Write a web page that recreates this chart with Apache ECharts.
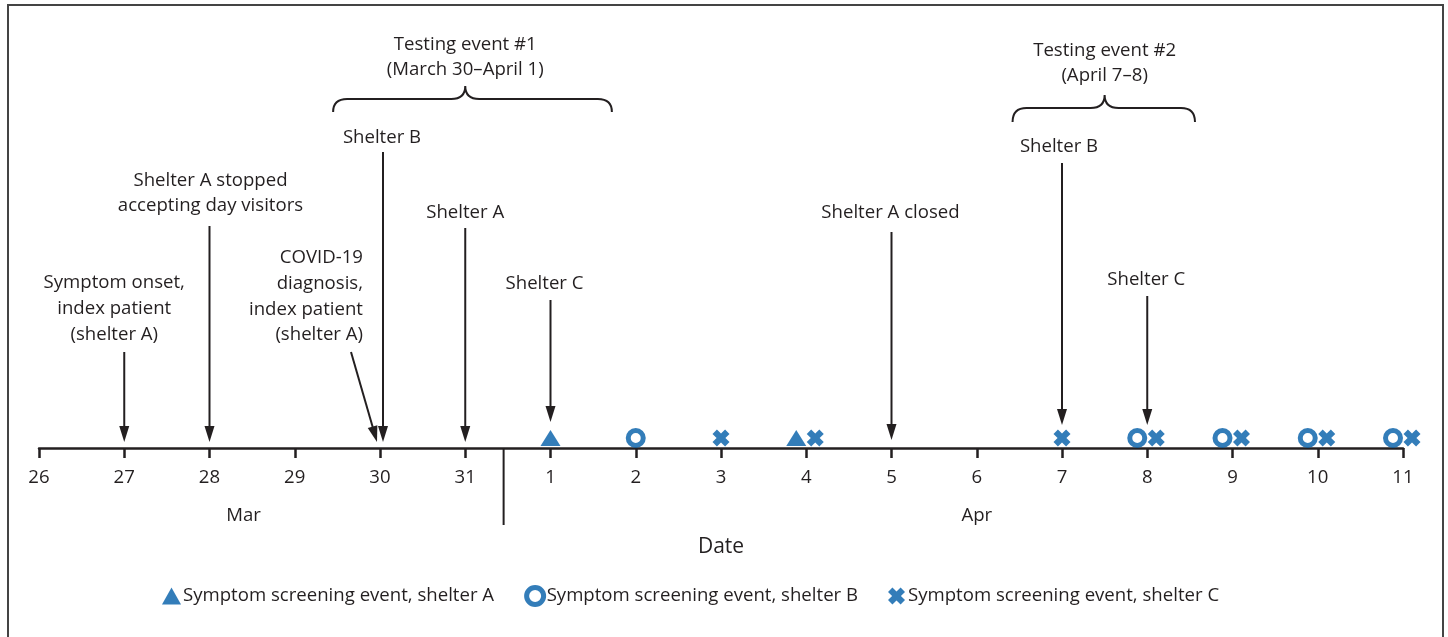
<!DOCTYPE html>
<html><head><meta charset="utf-8">
<script src="https://cdn.jsdelivr.net/npm/echarts@6/dist/echarts.min.js"></script>
<style>html,body{margin:0;padding:0;background:#fff}#c{width:1448px;height:637px}</style>
</head><body><div id="c"></div>
<script>
// ---------- DATA ----------
const dayLabels = ['26','27','28','29','30','31','1','2','3','4','5','6','7','8','9','10','11'];
const monthLabels = ['Mar','Apr'];
const monthLabelDays = [2.4, 11];
const monthBoundaryDay = 5.45;
const axisTitle = 'Date';

const eventLabels = [
  'Symptom onset,\nindex patient\n(shelter A)',
  'Shelter A stopped\naccepting day visitors',
  'COVID-19\ndiagnosis,\nindex patient\n(shelter A)',
  'Shelter B',
  'Shelter A',
  'Shelter C',
  'Shelter A closed',
  'Shelter B',
  'Shelter C'
];
const eventDays = [1, 2, 4, 4, 5, 6, 10, 12, 13];

const testingLabels = ['Testing event #1\n(March 30–April 1)', 'Testing event #2\n(April 7–8)'];
const testingStartDays = [4, 12];
const testingEndDays = [6, 13];

const seriesNames = [
  'Symptom screening event, shelter A',
  'Symptom screening event, shelter B',
  'Symptom screening event, shelter C'
];
const shelterADays = [6, 9];
const shelterBDays = [7, 13, 14, 15, 16];
const shelterCDays = [8, 9, 12, 13, 14, 15, 16];

// ---------- LAYOUT / STYLE ----------
const INK = '#231f20';
const BLUE = '#005ca8';
const FONT = '"Open Sans", "Noto Sans", sans-serif';
const FS = 18.6;
const XPATH = 'path://M2.6,0 L5,2.4 L7.4,0 L10,2.6 L7.6,5 L10,7.4 L7.4,10 L5,7.6 L2.6,10 L0,7.4 L2.4,5 L0,2.6 Z';
// per-event layout: text x offset(px), text top height above axis(px), align, lineHeight, arrow from [dx,h], to [dx,h]
const eventLayout = [
  {tx:-10, top:178, align:'center', lh:26, from:[0,96],   to:[0,6]},
  {tx:1,   top:280, align:'center', lh:25, from:[0,222],  to:[0,6]},
  {tx:-17, top:203, align:'right',  lh:25.7, from:[-29,96], to:[-3,6]},
  {tx:2,   top:323, align:'center', lh:25, from:[3,296],  to:[3,6]},
  {tx:0,   top:248, align:'center', lh:25, from:[0,220],  to:[0,6]},
  {tx:-6,  top:177, align:'center', lh:25, from:[0,148],  to:[0,26]},
  {tx:-1,  top:248, align:'center', lh:25, from:[0,216],  to:[0,8]},
  {tx:-3,  top:314, align:'center', lh:25, from:[0,285],  to:[0,23]},
  {tx:-1,  top:181, align:'center', lh:25, from:[0,152],  to:[0,23]}
];
const testingLayout = [
  {top:416, tipH:362, flatH:349, endH:336, padL:0.55, padR:0.72},
  {top:410, tipH:353, flatH:340, endH:326, padL:0.58, padR:0.56}
];

function mkPoints(days, others, side) {
  return days.map(d => {
    const shared = others.some(o => o.includes(d));
    return { value: [d, 0], symbolOffset: [shared ? side : 0, -10] };
  });
}

const chart = echarts.init(document.getElementById('c'), null, {renderer:'canvas'});

function arrowEls(x1, y1, x2, y2) {
  const L = 16, W = 10;
  const dx = x2 - x1, dy = y2 - y1, len = Math.hypot(dx, dy);
  const ux = dx / len, uy = dy / len;
  const bx = x2 - ux * L, by = y2 - uy * L;
  const nx = -uy, ny = ux;
  return [
    {type:'line', shape:{x1, y1, x2:bx + ux*2, y2:by + uy*2}, style:{stroke:INK, lineWidth:2}},
    {type:'polygon', shape:{points:[[x2,y2],[bx + nx*W/2, by + ny*W/2],[bx - nx*W/2, by - ny*W/2]]}, style:{fill:INK}}
  ];
}

const option = {
  animation: false,
  backgroundColor: '#fff',
  textStyle: {fontFamily: FONT, color: INK},
  grid: {left: 39, right: 45, top: 48, bottom: 189},
  xAxis: {
    type: 'value', min: 0, max: dayLabels.length - 1, interval: 1,
    axisLine: {show: true, lineStyle: {color: INK, width: 2.5}},
    axisTick: {show: true, length: 10, lineStyle: {color: INK, width: 2.5}},
    axisLabel: {formatter: v => dayLabels[v] || '', fontSize: 18.6, color: INK, margin: 20, fontFamily: FONT},
    splitLine: {show: false},
    name: axisTitle, nameLocation: 'middle', nameGap: 89,
    nameTextStyle: {fontSize: 21, color: INK, fontFamily: FONT}
  },
  yAxis: {type: 'value', min: 0, max: 400, show: false},
  legend: {
    bottom: 25, left: 157, itemGap: 30, itemWidth: 19, itemHeight: 17,
    textStyle: {fontSize: 18.6, color: INK, fontFamily: FONT, padding: [0,0,0,-3]},
    data: [
      {name: seriesNames[0], icon: 'triangle', itemStyle: {color: BLUE}},
      {name: seriesNames[1], icon: 'circle', itemStyle: {color: '#fff', borderColor: BLUE, borderWidth: 5}},
      {name: seriesNames[2], icon: XPATH, itemStyle: {color: BLUE}}
    ]
  },
  graphic: [{
    type: 'rect', shape: {x: 8, y: 5, width: 1435, height: 640},
    style: {fill: 'none', stroke: '#444', lineWidth: 2}, silent: true
  }],
  series: [
    {
      type: 'custom', name: 'annotations', clip: false, silent: true,
      data: eventDays.map((d, i) => [d, i]),
      renderItem: (params, api) => {
        const i = api.value(1), d = api.value(0);
        const lay = eventLayout[i];
        const base = api.coord([d, 0]);
        const p1 = api.coord([d, lay.from[1]]), p2 = api.coord([d, lay.to[1]]);
        const tp = api.coord([d, lay.top]);
        return {type:'group', children: [
          {type:'text', style:{text: eventLabels[i], x: base[0] + lay.tx, y: tp[1], align: lay.align, verticalAlign:'top',
            fontSize: FS, fontFamily: FONT, lineHeight: lay.lh, fill: INK}},
          ...arrowEls(p1[0] + lay.from[0], p1[1], p2[0] + lay.to[0], p2[1])
        ]};
      }
    },
    {
      type: 'custom', name: 'testing', clip: false, silent: true,
      data: testingStartDays.map((s, i) => [s, testingEndDays[i], i]),
      renderItem: (params, api) => {
        const s = api.value(0), e = api.value(1), i = api.value(2);
        const lay = testingLayout[i];
        const mid = (s + e) / 2;
        const xL = api.coord([s - lay.padL, 0])[0], xR = api.coord([e + lay.padR, 0])[0];
        const xT = api.coord([mid, 0])[0];
        const yT = api.coord([mid, lay.tipH])[1], yF = api.coord([mid, lay.flatH])[1], yE = api.coord([mid, lay.endH])[1];
        const yTop = api.coord([mid, lay.top])[1];
        const r = 14;
        const path = `M${xL},${yE} Q${xL},${yF} ${xL + r},${yF} L${xT - r},${yF} Q${xT},${yF} ${xT},${yT} Q${xT},${yF} ${xT + r},${yF} L${xR - r},${yF} Q${xR},${yF} ${xR},${yE}`;
        return {type:'group', children:[
          {type:'text', style:{text: testingLabels[i], x: xT, y: yTop, align:'center', verticalAlign:'top',
            fontSize: FS, fontFamily: FONT, lineHeight: 25, fill: INK}},
          {type:'path', shape:{pathData: path}, style:{fill:'none', stroke: INK, lineWidth: 2}}
        ]};
      }
    },
    {
      type: 'custom', name: 'months', clip: false, silent: true,
      data: monthLabels.map((m, i) => [monthLabelDays[i], i]),
      renderItem: (params, api) => {
        const d = api.value(0), i = api.value(1);
        const p = api.coord([d, 0]);
        const children = [
          {type:'text', style:{text: monthLabels[i], x: p[0], y: p[1] + 68, align:'center', verticalAlign:'middle',
            fontSize: 18.6, fontFamily: FONT, fill: INK}}
        ];
        if (i === 0) {
          const b = api.coord([monthBoundaryDay, 0]);
          children.push({type:'line', shape:{x1: b[0], y1: b[1], x2: b[0], y2: b[1] + 77}, style:{stroke: INK, lineWidth: 2}});
        }
        return {type:'group', children};
      }
    },
    {
      type: 'scatter', name: seriesNames[0], symbol: 'triangle', symbolSize: [20, 16],
      itemStyle: {color: BLUE}, z: 5,
      data: mkPoints(shelterADays, [shelterBDays, shelterCDays], -10)
    },
    {
      type: 'scatter', name: seriesNames[1], symbol: 'circle', symbolSize: 15,
      itemStyle: {color: '#fff', borderColor: BLUE, borderWidth: 5}, z: 5,
      data: mkPoints(shelterBDays, [shelterADays, shelterCDays], -10)
    },
    {
      type: 'scatter', name: seriesNames[2],
      symbol: XPATH,
      symbolSize: 17, itemStyle: {color: BLUE}, z: 5,
      data: mkPoints(shelterCDays, [shelterADays, shelterBDays], 9)
    }
  ]
};
chart.setOption(option);
</script>
</body></html>
